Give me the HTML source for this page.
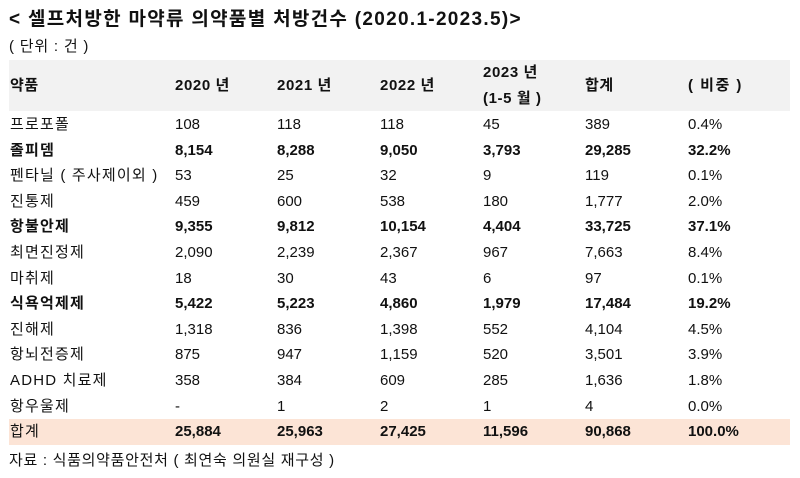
<!DOCTYPE html>
<html><head><meta charset="utf-8"><style>
body{margin:0;width:800px;height:478px;background:#fff;font-family:"Liberation Sans","Noto Sans CJK KR",sans-serif;color:#111;position:relative;overflow:hidden}
.t{position:absolute;white-space:nowrap;font-size:15px;line-height:18px}
.b{font-weight:bold}
.k{letter-spacing:1.2px}
</style></head><body>
<div class="t b" style="left:9px;top:8px;font-size:19px;line-height:24px;letter-spacing:1.3px">&lt; 셀프처방한 마약류 의약품별 처방건수 (2020.1-2023.5)&gt;</div>
<div class="t" style="left:9px;top:38px;letter-spacing:0.8px">( 단위 : 건 )</div>
<div style="position:absolute;left:9px;top:60px;width:781px;height:51px;background:#f2f2f2"></div>
<div style="position:absolute;left:9px;top:419px;width:781px;height:26px;background:#fce4d6"></div>
<div id="c"></div>
<div class="t" style="left:9px;top:452px;letter-spacing:0.7px">자료 : 식품의약품안전처 ( 최연숙 의원실 재구성 )</div>
<script>
var xs=[10,175,277,380,483,585,688];
var c=document.getElementById('c'),h='';
var hd=['약품','2020 년','2021 년','2022 년','','합계','( 비중 )'];
hd.forEach(function(s,i){if(s)h+='<div class="t b" style="left:'+xs[i]+'px;top:77px;letter-spacing:'+(i==6?'1.5px':'0.6px')+'">'+s+'</div>';});
h+='<div class="t b" style="left:483px;top:64px;letter-spacing:0.6px">2023 년</div><div class="t b" style="left:483px;top:90px;letter-spacing:0.6px">(1-5 월 )</div>';
var rows=[
[0,'프로포폴','108','118','118','45','389','0.4%'],
[1,'졸피뎀','8,154','8,288','9,050','3,793','29,285','32.2%'],
[0,'펜타닐 ( 주사제이외 )','53','25','32','9','119','0.1%'],
[0,'진통제','459','600','538','180','1,777','2.0%'],
[1,'항불안제','9,355','9,812','10,154','4,404','33,725','37.1%'],
[0,'최면진정제','2,090','2,239','2,367','967','7,663','8.4%'],
[0,'마취제','18','30','43','6','97','0.1%'],
[1,'식욕억제제','5,422','5,223','4,860','1,979','17,484','19.2%'],
[0,'진해제','1,318','836','1,398','552','4,104','4.5%'],
[0,'항뇌전증제','875','947','1,159','520','3,501','3.9%'],
[0,'ADHD 치료제','358','384','609','285','1,636','1.8%'],
[0,'항우울제','-','1','2','1','4','0.0%'],
[2,'합계','25,884','25,963','27,425','11,596','90,868','100.0%']];
rows.forEach(function(r,j){var y=116+25.6*j;for(var i=1;i<8;i++){var bold=r[0]==1||(r[0]==2&&i>1);h+='<div class="t'+(bold?' b':'')+(i==1?' k':'')+'" style="left:'+xs[i-1]+'px;top:'+y.toFixed(1)+'px">'+r[i]+'</div>';}});
c.innerHTML=h;
</script>
</body></html>
